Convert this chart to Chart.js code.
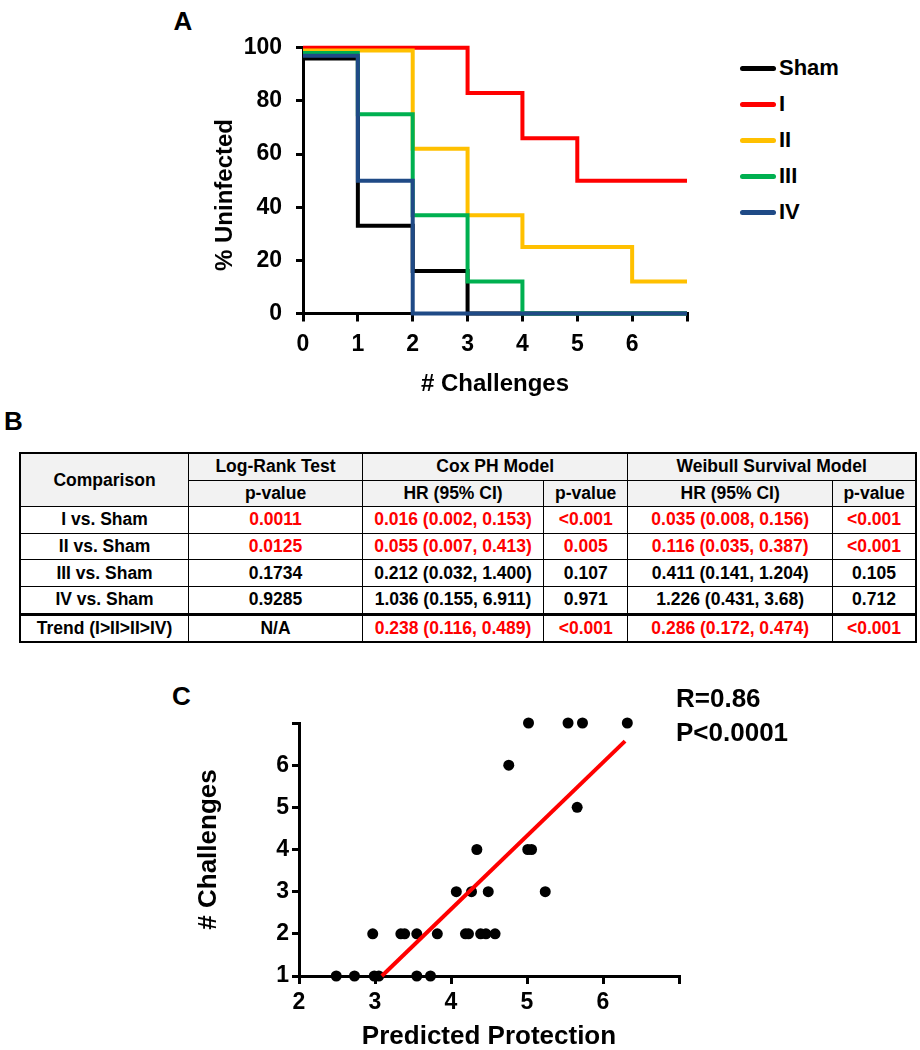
<!DOCTYPE html>
<html>
<head>
<meta charset="utf-8">
<title>Challenges</title>
<script src="https://cdn.jsdelivr.net/npm/chart.js@4.4.1/dist/chart.umd.min.js"></script>
<style>
  html, body { margin: 0; padding: 0; background: #fff; }
  body {
    width: 920px; height: 1050px; position: relative; overflow: hidden;
    font-family: "Liberation Sans", Arial, sans-serif; font-weight: bold; color: #000;
  }
  .panel { position: absolute; font-size: 26px; line-height: 1; }
  #chartA { position: absolute; left: 190px; top: 20px; }
  #chartC { position: absolute; left: 180px; top: 700px; }
  .ytitle {
    position: absolute; font-size: 24px; line-height: 1; white-space: nowrap;
    transform: translate(-50%, -50%) rotate(-90deg);
  }
  #legendA { position: absolute; left: 740px; top: 50.3px; }
  .leg { height: 36px; display: flex; align-items: center; font-size: 22px; line-height: 1; }
  .leg .line { width: 36px; height: 4.5px; border-radius: 3px; margin-right: 3px; }
  table {
    position: absolute; left: 19px; top: 452px; width: 896px; table-layout: fixed;
    border-collapse: collapse; font-size: 17.5px; text-align: center; border: 2px solid #000;
  }
  td, th { border: 1px solid #000; padding: 0; height: 25.6px; font-weight: bold; white-space: nowrap; }
  th { background: #f2f2f2; }
  tr.trend td { border-top: 3px solid #000; }
  .sig { color: #ff0000; }
  .stats { position: absolute; left: 676px; top: 680.7px; font-size: 26px; line-height: 34.4px; }
</style>
</head>
<body>

<div class="panel" style="left:173.6px; top:8.3px;">A</div>
<canvas id="chartA" width="520" height="390"></canvas>
<div class="ytitle" style="left:223.5px; top:195px;">% Uninfected</div>
<div id="legendA"></div>

<div class="panel" style="left:4px; top:408.3px;">B</div>
<table id="tableB"></table>

<div class="panel" style="left:172px; top:683.3px;">C</div>
<canvas id="chartC" width="520" height="350"></canvas>
<div class="stats">R=0.86<br>P&lt;0.0001</div>

<script>
// ---- Panel A: survival steps ----
const challenges = [0, 1, 2, 3, 4, 5, 6, 7];
const groupNames = ['Sham', 'I', 'II', 'III', 'IV'];
const groupColors = ['#000000', '#ff0000', '#ffc000', '#00b050', '#1f4a86'];
const shamPct = [96, 33, 16, 0, 0, 0, 0, 0];
const groupIPct = [100, 100, 100, 83, 66, 50, 50, 50];
const groupIIPct = [99, 99, 62, 37, 25, 25, 12, 12];
const groupIIIPct = [98, 75, 37, 12, 0, 0, 0, 0];
const groupIVPct = [97, 50, 0, 0, 0, 0, 0, 0];
const drawOrder = [4, 5, 3, 2, 1]; // lower = drawn on top
const xTicksA = [0, 1, 2, 3, 4, 5, 6];
const yTicksA = [0, 20, 40, 60, 80, 100];

// ---- Panel B: table ----
const comparisons = ['I vs. Sham', 'II vs. Sham', 'III vs. Sham', 'IV vs. Sham', 'Trend (I>II>II>IV)'];
const logRankP = ['0.0011', '0.0125', '0.1734', '0.9285', 'N/A'];
const coxHR = ['0.016 (0.002, 0.153)', '0.055 (0.007, 0.413)', '0.212 (0.032, 1.400)', '1.036 (0.155, 6.911)', '0.238 (0.116, 0.489)'];
const coxP = ['<0.001', '0.005', '0.107', '0.971', '<0.001'];
const weibullHR = ['0.035 (0.008, 0.156)', '0.116 (0.035, 0.387)', '0.411 (0.141, 1.204)', '1.226 (0.431, 3.68)', '0.286 (0.172, 0.474)'];
const weibullP = ['<0.001', '<0.001', '0.105', '0.712', '<0.001'];

// ---- Panel C: scatter + fit ----
const predictedProtection = [2.49, 2.73, 2.99, 3.05, 3.55, 3.73,
  2.97, 3.34, 3.39, 3.55, 3.82, 4.19, 4.23, 4.39, 4.46, 4.58,
  4.07, 4.27, 4.49, 5.24,
  4.34, 5.01, 5.06,
  5.66,
  4.76,
  5.02, 5.54, 5.73, 6.32];
const challengesC = [1, 1, 1, 1, 1, 1,
  2, 2, 2, 2, 2, 2, 2, 2, 2, 2,
  3, 3, 3, 3,
  4, 4, 4,
  5,
  6,
  7, 7, 7, 7];
const fitX = [3.09, 6.29];
const fitY = [1.0, 6.57];
const xTicksC = [2, 3, 4, 5, 6];
const yTicksC = [1, 2, 3, 4, 5, 6];

const FONT = '"Liberation Sans", Arial, sans-serif';
Chart.defaults.font.family = FONT;
Chart.defaults.font.weight = 'bold';
Chart.defaults.color = '#000';

function axisGrid(len) {
  return { drawOnChartArea: false, color: '#000', lineWidth: 3, tickLength: len };
}

// Chart A
const seriesA = [shamPct, groupIPct, groupIIPct, groupIIIPct, groupIVPct];
new Chart(document.getElementById('chartA'), {
  type: 'line',
  data: {
    datasets: seriesA.map((vals, i) => ({
      label: groupNames[i],
      data: challenges.map((x, k) => ({ x: x, y: vals[k] })),
      borderColor: groupColors[i],
      borderWidth: 4,
      stepped: 'before',
      pointRadius: 0,
      fill: false,
      clip: false,
      order: drawOrder[i]
    }))
  },
  options: {
    responsive: false,
    animation: false,
    layout: { padding: { top: 27, right: 23, left: 0, bottom: 0 } },
    plugins: { legend: { display: false }, tooltip: { enabled: false } },
    scales: {
      x: {
        type: 'linear', min: 0, max: 7,
        afterFit: (s) => { s.height = 96.5; },
        ticks: {
          stepSize: 1, autoSkip: false, padding: 9.5,
          font: { size: 23, weight: 'bold' },
          callback: (v) => xTicksA.includes(v) ? String(v) : ''
        },
        grid: axisGrid(8),
        border: { color: '#000', width: 3 },
        title: {
          display: true, text: '# Challenges',
          font: { size: 24, weight: 'bold', lineHeight: 1 },
          padding: { top: 0, bottom: 14 }
        }
      },
      y: {
        min: 0, max: 100,
        afterFit: (s) => { s.width = 113; },
        ticks: {
          stepSize: 20, autoSkip: false, padding: 14,
          font: { size: 23, weight: 'bold' },
          callback: (v) => yTicksA.includes(v) ? String(v) : ''
        },
        grid: axisGrid(7),
        border: { color: '#000', width: 3 }
      }
    }
  }
});

// Legend A (HTML)
const legendA = document.getElementById('legendA');
groupNames.forEach((name, i) => {
  const row = document.createElement('div');
  row.className = 'leg';
  const line = document.createElement('span');
  line.className = 'line';
  line.style.background = groupColors[i];
  const txt = document.createElement('span');
  txt.textContent = name;
  row.appendChild(line);
  row.appendChild(txt);
  legendA.appendChild(row);
});

// Table B
function isSig(p) { return p.startsWith('<') || parseFloat(p) < 0.05; }
const table = document.getElementById('tableB');
const colWidths = [168.6, 173.9, 181.1, 84.3, 204.6, 83.6];
let html = '<colgroup>' + colWidths.map(w => '<col style="width:' + w + 'px">').join('') + '</colgroup>';
html += '<tr><th rowspan="2">Comparison</th><th>Log-Rank Test</th><th colspan="2">Cox PH Model</th><th colspan="2">Weibull Survival Model</th></tr>';
html += '<tr><th>p-value</th><th>HR (95% CI)</th><th>p-value</th><th>HR (95% CI)</th><th>p-value</th></tr>';
table.innerHTML = html;
function cell(tr, text, red) {
  const td = document.createElement('td');
  td.textContent = text;
  if (red) td.className = 'sig';
  tr.appendChild(td);
}
comparisons.forEach((c, i) => {
  const tr = document.createElement('tr');
  if (i === comparisons.length - 1) tr.className = 'trend';
  cell(tr, c, false);
  cell(tr, logRankP[i], isSig(logRankP[i]));
  cell(tr, coxHR[i], isSig(coxP[i]));
  cell(tr, coxP[i], isSig(coxP[i]));
  cell(tr, weibullHR[i], isSig(weibullP[i]));
  cell(tr, weibullP[i], isSig(weibullP[i]));
  table.appendChild(tr);
});

// Chart C
new Chart(document.getElementById('chartC'), {
  type: 'scatter',
  data: {
    datasets: [
      {
        label: 'Fit',
        data: fitX.map((x, i) => ({ x: x, y: fitY[i] })),
        showLine: true,
        borderColor: '#ff0000',
        borderWidth: 4,
        pointRadius: 0,
        clip: false,
        order: 0
      },
      {
        label: 'Animals',
        data: predictedProtection.map((x, i) => ({ x: x, y: challengesC[i] })),
        backgroundColor: '#000',
        borderWidth: 0,
        pointRadius: 5.5,
        clip: false,
        order: 1
      }
    ]
  },
  options: {
    responsive: false,
    animation: false,
    layout: { padding: { top: 23, right: 21, left: 0, bottom: 0 } },
    plugins: { legend: { display: false }, tooltip: { enabled: false } },
    scales: {
      x: {
        type: 'linear', min: 2, max: 7,
        afterFit: (s) => { s.height = 74; },
        ticks: {
          stepSize: 1, autoSkip: false, padding: 5,
          font: { size: 23, weight: 'bold' },
          callback: (v) => xTicksC.includes(v) ? String(v) : ''
        },
        grid: axisGrid(8),
        border: { color: '#000', width: 3 },
        title: {
          display: true, text: 'Predicted Protection',
          font: { size: 26, weight: 'bold', lineHeight: 1 },
          padding: { top: 0, bottom: 0 }
        }
      },
      y: {
        type: 'linear', min: 1, max: 7,
        afterFit: (s) => { s.width = 119; },
        ticks: {
          stepSize: 1, autoSkip: false, padding: 3,
          font: { size: 23, weight: 'bold' },
          callback: (v) => yTicksC.includes(v) ? String(v) : ''
        },
        grid: axisGrid(7),
        border: { color: '#000', width: 3 },
        title: {
          display: true, text: '# Challenges',
          font: { size: 26, weight: 'bold', lineHeight: 1 },
          padding: { top: 16, bottom: 0 }
        }
      }
    }
  }
});
</script>
</body>
</html>
